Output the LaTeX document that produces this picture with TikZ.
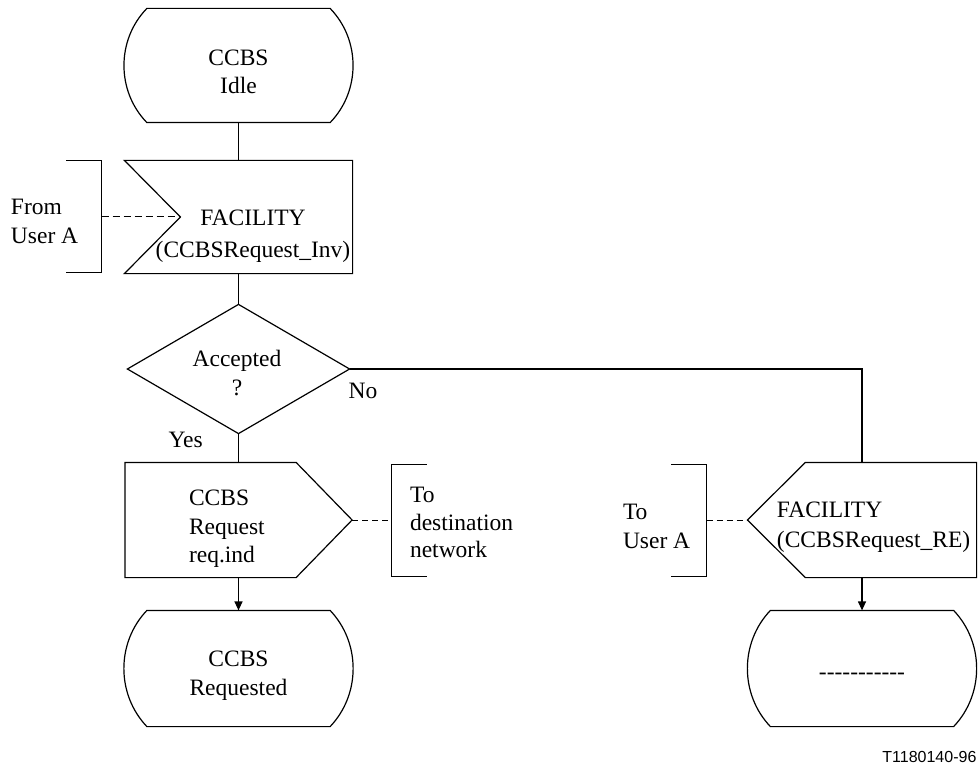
\documentclass[tikz,border=0pt]{standalone}
\usepackage{fontspec}
\setmainfont{Liberation Serif}
\newfontfamily\labelfont{Liberation Sans}
\usetikzlibrary{arrows.meta,calc}
\newcommand\hy{\hbox{-}}
\begin{document}
\begin{tikzpicture}[x=1pt,y=-1pt,
  line width=1.2pt, line join=miter,
  box/.style={rectangle, inner sep=0pt, draw=none},
  txt/.style={inner sep=0pt, font={\fontsize{23.5}{#1}\selectfont}},
  txt/.default=28,
  conn/.style={line width=1.2pt},
  arr/.style={-{Triangle[length=9pt,width=8pt]}},
  dsh/.style={dash pattern=on 7pt off 4pt, line width=1pt},
  brk/.style={line width=1.2pt}
]
\useasboundingbox (0,0) rectangle (979,767);

% ---------- shape nodes ----------
\node[box, minimum width=182pt, minimum height=113pt] (idle) at (238.5,65.5) {};
\node[box, minimum width=227pt, minimum height=112pt] (inv) at (238.5,217) {};
\node[box, minimum width=221pt, minimum height=128pt] (dec) at (238.5,369) {};
\node[box, minimum width=226pt, minimum height=114pt] (req) at (238.5,520) {};
\node[box, minimum width=228pt, minimum height=114pt] (re) at (862,520) {};
\node[box, minimum width=182pt, minimum height=115pt] (reqd) at (238.5,668.5) {};
\node[box, minimum width=182pt, minimum height=115pt] (blank) at (862,668.5) {};
\node[box, minimum width=34pt, minimum height=111pt] (from) at (84,216.5) {};
\node[box, minimum width=34pt, minimum height=111pt] (dest) at (409,520.5) {};
\node[box, minimum width=34pt, minimum height=111pt] (tousr) at (689,520.5) {};
\coordinate (inv-notch) at ($(inv.west)+(56,0)$);

% ---------- outlines ----------
% terminals
\draw (idle.north west) -- (idle.north east)
  .. controls +(30.6,31.4) and +(30.6,-31.4) .. (idle.south east)
  -- (idle.south west)
  .. controls +(-30.6,-31.4) and +(-30.6,31.4) .. (idle.north west) -- cycle;
\draw (reqd.north west) -- (reqd.north east)
  .. controls +(30.7,32.2) and +(30.7,-32.2) .. (reqd.south east)
  -- (reqd.south west)
  .. controls +(-30.7,-32.2) and +(-30.7,32.2) .. (reqd.north west) -- cycle;
\draw (blank.north west) -- (blank.north east)
  .. controls +(30.7,32.2) and +(30.7,-32.2) .. (blank.south east)
  -- (blank.south west)
  .. controls +(-30.7,-32.2) and +(-30.7,32.2) .. (blank.north west) -- cycle;
% input signal
\draw (inv.north west) -- (inv.north east) -- (inv.south east) -- (inv.south west) -- (inv-notch) -- cycle;
% decision
\draw (dec.north) -- (dec.east) -- (dec.south) -- (dec.west) -- cycle;
% output signal (right-pointing)
\draw (req.north west) -- ($(req.north east)+(-56,0)$) -- (req.east) -- ($(req.south east)+(-56,0)$) -- (req.south west) -- cycle;
% output signal (left-pointing)
\draw (re.west) -- ($(re.north west)+(58,0)$) -- (re.north east) -- (re.south east) -- ($(re.south west)+(58,0)$) -- cycle;
% brackets
\draw[brk] (from.north west) -- (from.north east) -- (from.south east) -- (from.south west);
\draw[brk] (dest.north east) -- (dest.north west) -- (dest.south west) -- (dest.south east);
\draw[brk] (tousr.north west) -- (tousr.north east) -- (tousr.south east) -- (tousr.south west);

% ---------- texts ----------
\node[txt=28, align=center] (idle-t) at (238.5,72) {CCBS\\Idle};
\node[txt=32, align=center] (inv-t) at (253,236.6) {FACILITY\\(CCBSRequest\_Inv)};
\node[txt=29, align=center] (dec-t) at (237,373.5) {Accepted\\?};
\node[txt=28.5, align=left] (req-t) at (226.9,529.1) {CCBS\\Request\\req.ind};
\node[txt=27.5, align=left] (dest-t) at (461.6,522.7) {To\\destination\\network};
\node[txt=29, align=left] (from-t) at (44.6,221.7) {From\\User A};
\node[txt=29, align=left] (tousr-t) at (656.6,526.7) {To\\User A};
\node[txt=30, align=left] (re-t) at (873.6,527.6) {FACILITY\\(CCBSRequest\_RE)};
\node[txt=29, align=center] (reqd-t) at (238.5,676.1) {CCBS\\Requested};
\node[txt] (blank-t) at (862,676.3) {\hy\hy\hy\hy\hy\hy\hy\hy\hy\hy\hy};
\node[txt, anchor=base west] (yes) at (168,447) {Yes};
\node[txt, anchor=base west] (no) at (348,398) {No};
\node[inner sep=0pt, anchor=base east, font={\labelfont\fontsize{16}{19}\selectfont}] (fig) at (977,762) {T1180140-96};

% ---------- connectors ----------
\draw[conn] (idle.south) -- (inv.north);
\draw[conn] (inv.south) -- (dec.north);
\draw[conn] (dec.south) -- (req.north);
\draw[conn] (dec.east) -| (re.north);
\draw[conn, arr] (req.south) -- (reqd.north);
\draw[conn, arr] (re.south) -- (blank.north);
\draw[dsh] (inv-notch -| from.east) -- (inv-notch);
\draw[dsh, dash pattern=on 6pt off 4pt] (req.east) -- (req.east -| dest.west);
\draw[dsh, dash pattern=on 6pt off 4pt] (tousr.east |- re.west) -- (re.west);
\end{tikzpicture}
\end{document}
